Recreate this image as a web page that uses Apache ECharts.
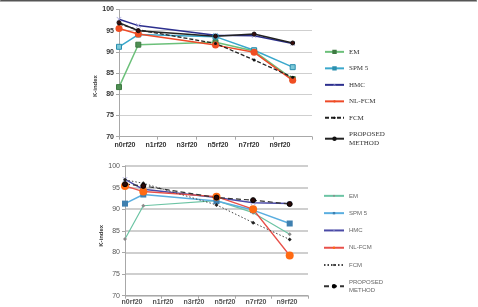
<!DOCTYPE html>
<html>
<head>
<meta charset="utf-8">
<script src="https://cdn.jsdelivr.net/npm/echarts@6/dist/echarts.min.js"></script>
<style>
  html, body { margin: 0; padding: 0; background: #fff; }
  #chart { width: 478px; height: 307px; }
</style>
</head>
<body>
<div id="chart"></div>
<script>
// noise level index of each test point (n0, n1, n5, n7, n9)
const xVals = [0, 1, 5, 7, 9];
const xLabels = ['n0rf20', 'n1rf20', 'n3rf20', 'n5rf20', 'n7rf20', 'n9rf20'];
const names = ['EM', 'SPM 5', 'HMC', 'NL-FCM', 'FCM', 'PROPOSED\nMETHOD'];

// upper chart
const topEM = [81.7, 91.7, 92.3, 90.2, 83.6];
const topSPM = [91.2, 94.1, 93.6, 90.4, 86.4];
const topHMC = [97.7, 96.2, 93.9, 93.8, 92.0];
const topNL = [95.5, 94.2, 91.6, 89.9, 83.3];
const topFCM = [96.6, 95.2, 92.0, 88.1, 84.0];
const topProp = [96.9, 95.0, 93.7, 94.2, 92.1];

// lower chart
const botEM = [83.1, 90.8, 92.0, 89.2, 84.2];
const botSPM = [91.3, 93.4, 91.9, 89.8, 86.7];
const botHMC = [96.9, 94.6, 92.7, 91.5, 91.3];
const botNL = [95.4, 94.1, 92.9, 90.0, 79.3];
const botFCM = [96.8, 96.0, 91.0, 86.9, 83.0];
const botProp = [95.8, 95.4, 92.7, 92.1, 91.2];

const crossIcon = 'path://M0,1L1,0L5,4L9,0L10,1L6,5L10,9L9,10L5,6L1,10L0,9L4,5Z';

function pairs(vals) {
    return vals.map(function (v, i) { return [xVals[i], v]; });
}

let myChart = echarts.init(document.getElementById('chart'));

function mkSeries(name, vals, idx, line, sym) {
    return {
        name: name,
        type: 'line',
        xAxisIndex: idx,
        yAxisIndex: idx,
        data: pairs(vals),
        symbol: sym.symbol,
        symbolSize: sym.size,
        showSymbol: true,
        animation: false,
        lineStyle: line,
        itemStyle: sym.item
    };
}

const series = [
    mkSeries('EM', topEM, 0, {color: '#6cc07a', width: 1.5},
        {symbol: 'rect', size: 5, item: {color: '#4f8f53', borderColor: '#3d7a42', borderWidth: 1}}),
    mkSeries('SPM 5', topSPM, 0, {color: '#3aa8cc', width: 1.5},
        {symbol: 'rect', size: 5, item: {color: '#7cc8d8', borderColor: '#2a8fae', borderWidth: 1}}),
    mkSeries('HMC', topHMC, 0, {color: '#2c2f8e', width: 1.5},
        {symbol: crossIcon, size: 5, item: {color: '#a8a8dc'}}),
    mkSeries('NL-FCM', topNL, 0, {color: '#ee4a28', width: 1.5},
        {symbol: 'circle', size: 7, item: {color: '#f04e22'}}),
    mkSeries('FCM', topFCM, 0, {color: '#222', width: 1.3, type: [4, 2]},
        {symbol: 'circle', size: 3, item: {color: '#111'}}),
    mkSeries('PROPOSED\nMETHOD', topProp, 0, {color: '#222', width: 1.5},
        {symbol: 'circle', size: 4, item: {color: '#3a0c0c', borderColor: '#111', borderWidth: 1}}),

    mkSeries('b:EM', botEM, 1, {color: '#6cc4a4', width: 1.2},
        {symbol: 'diamond', size: 4, item: {color: '#8a8a8a'}}),
    mkSeries('b:SPM 5', botSPM, 1, {color: '#5aaee0', width: 1.5},
        {symbol: 'rect', size: 6, item: {color: '#3f80b0'}}),
    mkSeries('b:HMC', botHMC, 1, {color: '#4a4aa6', width: 1.5},
        {symbol: crossIcon, size: 5, item: {color: '#a8a8dc'}}),
    mkSeries('b:NL-FCM', botNL, 1, {color: '#e8504a', width: 1.3},
        {symbol: 'circle', size: 8, item: {color: '#ff6a12'}}),
    mkSeries('b:FCM', botFCM, 1, {color: '#444', width: 1, type: [1.5, 2]},
        {symbol: 'diamond', size: 4, item: {color: '#222'}}),
    mkSeries('b:PROPOSED\nMETHOD', botProp, 1, {color: '#333', width: 1.2, type: [5, 3]},
        {symbol: 'circle', size: 5, item: {color: '#2a0808', borderColor: '#000', borderWidth: 1}})
];

function valueX(grid, showTick) {
    return {
        type: 'value', gridIndex: grid, min: 0, max: 10, interval: 2,
        axisLine: {show: true, lineStyle: {color: '#a8a8a8'}},
        axisTick: {show: showTick, length: 3, lineStyle: {color: '#a8a8a8'}},
        axisLabel: {show: false},
        splitLine: {show: false}
    };
}

function valueY(grid, bold, splitW) {
    return {
        type: 'value', gridIndex: grid, min: 70, max: 100, interval: 5,
        name: 'K-index',
        nameLocation: 'middle',
        nameGap: bold ? 18 : 17,
        nameTextStyle: {
            fontFamily: 'Liberation Sans', fontSize: 6, fontWeight: 'bold', color: '#333',
            padding: bold ? [0, 26, 0, 0] : [0, 10, 0, 0]
        },
        axisLine: {show: true, lineStyle: {color: '#a8a8a8'}},
        axisTick: {show: true, length: 3, lineStyle: {color: '#a8a8a8'}},
        axisLabel: {
            fontFamily: 'Liberation Sans', fontSize: 7, margin: 5,
            fontWeight: bold ? 'bold' : 'normal', color: bold ? '#333' : '#555'
        },
        splitLine: {show: true, lineStyle: {color: '#cfcfcf', width: splitW}}
    };
}

function labelX(grid, bold, margin) {
    return {
        type: 'category', gridIndex: grid, boundaryGap: false, data: xLabels,
        axisLine: {show: false}, axisTick: {show: false}, splitLine: {show: false},
        axisLabel: {
            fontFamily: 'Liberation Sans', fontSize: 7, margin: margin,
            fontWeight: 'bold', color: bold ? '#333' : '#555'
        }
    };
}

function hiddenY(grid) {
    return {type: 'value', gridIndex: grid, show: false, splitLine: {show: false}};
}

option = {
    backgroundColor: '#fff',
    animation: false,
    grid: [
        {left: 119, top: 9.5, width: 193, height: 127.2},
        {left: 125, top: 166, width: 183, height: 129.7},
        {left: 125, top: 9.5, width: 155, height: 127.2},
        {left: 132, top: 166, width: 155, height: 129.7}
    ],
    xAxis: [valueX(0, true), valueX(1, true), labelX(2, true, 4.5), labelX(3, false, 2.5)],
    yAxis: [valueY(0, true, 1), valueY(1, false, 2), hiddenY(2), hiddenY(3)],
    legend: [
        {
            orient: 'vertical', left: 324, top: 47.5, padding: 0,
            itemWidth: 19, itemHeight: 3, itemGap: 7.8,
            data: names,
            textStyle: {fontFamily: 'Liberation Serif', fontSize: 7, color: '#333', lineHeight: 8.7}
        },
        {
            orient: 'vertical', left: 323, top: 192, padding: 0,
            itemWidth: 20, itemHeight: 3, itemGap: 9.6,
            data: names.map(function (n) { return 'b:' + n; }),
            formatter: function (n) { return n.replace('b:', ''); },
            textStyle: {fontFamily: 'Liberation Sans', fontSize: 6, color: '#666', lineHeight: 7.7}
        }
    ],
    graphic: [
        {
            type: 'rect', left: 0, top: 0, silent: true,
            shape: {width: 477, height: 1.5, r: [1, 1, 0, 0]},
            style: {fill: '#555'}
        }
    ],
    series: series
};
myChart.setOption(option);
</script>
</body>
</html>
